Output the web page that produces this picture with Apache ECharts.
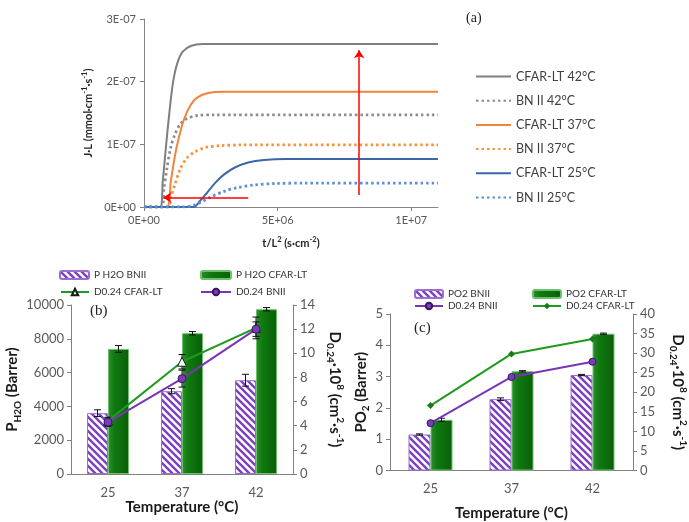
<!DOCTYPE html>
<html>
<head>
<meta charset="utf-8">
<script src="https://cdn.jsdelivr.net/npm/echarts@6/dist/echarts.min.js"></script>
<style>
  html, body { margin: 0; padding: 0; background: #fff; }
  #chart { width: 689px; height: 522px; }
</style>
</head>
<body>
<div id="chart"></div>
<script>
// (a) time-lag curves, points are [t/L2, J*L]
const cfar42 = [[0, 0], [6.0e5, 0], [7.0e5, 0.4e-7], [8.3e5, 1.0e-7], [9.6e5, 1.55e-7], [1.09e6, 2.0e-7], [1.25e6, 2.3e-7], [1.45e6, 2.48e-7], [1.75e6, 2.57e-7], [2.2e6, 2.6e-7], [1.1e7, 2.6e-7]]
const bn42 = [[0, 0], [6.5e5, 0], [7.5e5, 0.3e-7], [8.5e5, 0.6e-7], [1.0e6, 0.95e-7], [1.15e6, 1.15e-7], [1.35e6, 1.32e-7], [1.6e6, 1.41e-7], [2.0e6, 1.46e-7], [2.6e6, 1.47e-7], [1.1e7, 1.47e-7]]
const cfar37 = [[0, 0], [8.5e5, 0], [1.0e6, 0.4e-7], [1.15e6, 0.8e-7], [1.3e6, 1.1e-7], [1.5e6, 1.4e-7], [1.75e6, 1.63e-7], [2.0e6, 1.75e-7], [2.4e6, 1.82e-7], [3.0e6, 1.84e-7], [1.1e7, 1.84e-7]]
const bn37 = [[0, 0], [9.0e5, 0], [1.0e6, 0.15e-7], [1.15e6, 0.35e-7], [1.35e6, 0.6e-7], [1.6e6, 0.78e-7], [1.9e6, 0.88e-7], [2.3e6, 0.95e-7], [2.9e6, 0.98e-7], [3.6e6, 0.99e-7], [1.1e7, 0.99e-7]]
const cfar25 = [[0, 0], [1.85e6, 0], [2.1e6, 0.1e-7], [2.4e6, 0.25e-7], [2.7e6, 0.4e-7], [3.0e6, 0.52e-7], [3.4e6, 0.63e-7], [3.9e6, 0.71e-7], [4.5e6, 0.75e-7], [5.3e6, 0.765e-7], [1.1e7, 0.765e-7]]
const bn25 = [[0, 0], [1.4e6, 0], [1.8e6, 0.02e-7], [2.1e6, 0.07e-7], [2.5e6, 0.16e-7], [3.0e6, 0.25e-7], [3.5e6, 0.31e-7], [4.1e6, 0.35e-7], [4.9e6, 0.375e-7], [6.0e6, 0.38e-7], [1.1e7, 0.38e-7]]
const arrowUp = [[8.05e6, 0.19e-7], [8.05e6, 2.5e-7]]
const arrowLeft = [[3.9e6, 0.15e-7], [0.72e6, 0.15e-7]]

// (b) water vapour, (c) oxygen
const temps = ['25', '37', '42']
const pH2oBn = [3600, 4900, 5550]
const pH2oBnErr = [200, 150, 350]
const pH2oCf = [7400, 8330, 9750]
const pH2oCfErr = [200, 100, 100]
const dH2oCf = [4.4, 9.3, 12.1]
const dH2oCfErr = [0.3, 0.6, 0.9]
const dH2oBn = [4.3, 7.9, 12.0]
const dH2oBnErr = [0.35, 0.7, 0.6]
const pO2Bn = [1.15, 2.28, 3.05]
const pO2BnErr = [0.02, 0.04, 0.02]
const pO2Cf = [1.62, 3.17, 4.37]
const pO2CfErr = [0.05, 0.02, 0.02]
const dO2Bn = [12.1, 23.9, 27.8]
const dO2Cf = [16.6, 29.8, 33.6]

const font = 'Lato, "Open Sans", sans-serif'
const purple = '#7030a0'
const green = '#1f9a1f'

// hatched fill for the BNII bars
const hatch = document.createElement('canvas')
hatch.width = hatch.height = 7
const hc = hatch.getContext('2d')
hc.fillStyle = '#fff'
hc.fillRect(0, 0, 7, 7)
hc.strokeStyle = '#7d3fc0'
hc.lineWidth = 2.4
hc.beginPath()
hc.moveTo(-1, -1); hc.lineTo(8, 8)
hc.moveTo(-1, 6); hc.lineTo(1, 8)
hc.moveTo(6, -1); hc.lineTo(8, 1)
hc.stroke()

const greenFill = {
  type: 'linear', x: 0, y: 0, x2: 1, y2: 0,
  colorStops: [{ offset: 0, color: '#2f8f2f' }, { offset: 0.3, color: '#0f7a0f' }, { offset: 1, color: '#0a5e0a' }]
}

function sci(v) {
  if (v === 0) return '0E+00'
  const [m, e] = v.toExponential(0).split('e')
  const n = parseInt(e)
  return m + 'E' + (n < 0 ? '-' : '+') + String(Math.abs(n)).padStart(2, '0')
}

const richBig = {
  b: { fontSize: 15, fontWeight: 'bold', lineHeight: 20, fontFamily: font, color: '#1a1a1a' },
  sub: { fontSize: 10, fontWeight: 'bold', lineHeight: 10, verticalAlign: 'bottom', fontFamily: font, color: '#1a1a1a' },
  sup: { fontSize: 10, fontWeight: 'bold', lineHeight: 10, verticalAlign: 'top', fontFamily: font, color: '#1a1a1a' }
}
const richSmall = {
  b: { fontSize: 11, fontWeight: 'bold', lineHeight: 15, fontFamily: font, color: '#262626' },
  sup: { fontSize: 7.5, fontWeight: 'bold', lineHeight: 8, verticalAlign: 'top', fontFamily: font, color: '#262626' }
}

function errSeries(vals, errs, xi, yi, offset) {
  return {
    type: 'custom', xAxisIndex: xi, yAxisIndex: yi, z: 6, silent: true,
    data: vals.map((v, i) => [i, v - errs[i], v + errs[i]]),
    renderItem: (params, api) => {
      const lo = api.coord([api.value(0), api.value(1)])
      const hi = api.coord([api.value(0), api.value(2)])
      const x = lo[0] + offset
      const st = { stroke: '#111', lineWidth: 1 }
      return {
        type: 'group', children: [
          { type: 'line', shape: { x1: x, y1: lo[1], x2: x, y2: hi[1] }, style: st },
          { type: 'line', shape: { x1: x - 3.5, y1: lo[1], x2: x + 3.5, y2: lo[1] }, style: st },
          { type: 'line', shape: { x1: x - 3.5, y1: hi[1], x2: x + 3.5, y2: hi[1] }, style: st }
        ]
      }
    }
  }
}

function curve(name, data, color, dotted) {
  return {
    name, type: 'line', xAxisIndex: 0, yAxisIndex: 0, data, smooth: 0.3,
    symbol: 'none', color,
    lineStyle: { color, width: dotted ? 2.8 : 2, type: dotted ? [2.5, 3] : 'solid' }
  }
}

const axisLine = { lineStyle: { color: '#808080' } }
const tick = { show: true, length: 4, lineStyle: { color: '#808080' } }
const lbl = { fontSize: 13, color: '#595959', fontFamily: font }

function catAxis(gi, gap) {
  return {
    type: 'category', gridIndex: gi, data: temps, axisLine, axisTick: { show: false },
    axisLabel: { ...lbl, margin: 12 },
    name: '{b|Temperature (°C)}', nameLocation: 'middle', nameGap: gap,
    nameTextStyle: { rich: richBig }
  }
}

function valAxis(gi, pos, max, interval, name, gap, rot) {
  return {
    type: 'value', gridIndex: gi, position: pos, min: 0, max, interval,
    axisLine: { show: true, ...axisLine }, axisTick: tick, splitLine: { show: false },
    axisLabel: { ...lbl, margin: 7, formatter: v => String(v) },
    name, nameLocation: 'middle', nameGap: gap, nameRotate: rot,
    nameTextStyle: { rich: richBig }
  }
}

function lgd(name, left, top, w, h) {
  return {
    left, top, padding: 0, itemWidth: w, itemHeight: h, data: [name],
    formatter: n => n.replace(' (c)', ''),
    textStyle: { fontSize: 10, color: '#333', fontFamily: font }
  }
}

const chart = echarts.init(document.getElementById('chart'))
const option = {
  animation: false,
  textStyle: { fontFamily: font },
  grid: [
    { left: 144, top: 19, width: 294, height: 188 },
    { left: 71, top: 305, width: 222, height: 169 },
    { left: 390, top: 314, width: 245, height: 160 }
  ],
  legend: [
    {
      orient: 'vertical', left: 475, top: 70, padding: 0, itemWidth: 35, itemHeight: 14, itemGap: 11.2,
      itemStyle: { opacity: 0 },
      textStyle: { fontSize: 12.5, color: '#404040', fontFamily: font },
      data: ['CFAR-LT 42°C', 'BN II 42°C', 'CFAR-LT 37°C', 'BN II 37°C', 'CFAR-LT 25°C', 'BN II 25°C']
    },
    lgd('P H2O BNII', 59, 270, 29, 8),
    lgd('P H2O CFAR-LT', 200, 270, 30, 8),
    lgd('D0.24 CFAR-LT', 60, 287, 28, 8),
    lgd('D0.24 BNII', 200, 287, 30, 8),
    lgd('PO2 BNII', 414, 289, 28, 8),
    lgd('PO2 CFAR-LT', 532, 289, 28, 8),
    lgd('D0.24 BNII (c)', 414, 301, 28, 8),
    lgd('D0.24 CFAR-LT (c)', 532, 301, 28, 8)
  ],
  graphic: [
    { type: 'text', left: 466, top: 11, style: { text: '(a)', font: '14px "Liberation Serif", serif', fill: '#222' } },
    { type: 'text', left: 90, top: 304, style: { text: '(b)', font: '15px "Liberation Serif", serif', fill: '#222' } },
    { type: 'text', left: 414, top: 321, style: { text: '(c)', font: '15px "Liberation Serif", serif', fill: '#222' } }
  ],
  xAxis: [
    {
      type: 'value', gridIndex: 0, min: 0, max: 1.1e7, interval: 5e6,
      axisLine: { lineStyle: { color: '#868686' } }, axisTick: tick, splitLine: { show: false },
      axisLabel: { fontSize: 11, color: '#595959', fontFamily: font, formatter: sci, showMaxLabel: false },
      name: '{b|t/L}{sup|2}{b| (s·cm}{sup|-2}{b|)}', nameLocation: 'middle', nameGap: 29,
      nameTextStyle: { rich: richSmall }
    },
    catAxis(1, 22),
    catAxis(2, 33)
  ],
  yAxis: [
    {
      type: 'value', gridIndex: 0, min: 0, max: 3e-7, interval: 1e-7,
      axisLine: { show: true, lineStyle: { color: '#868686' } }, axisTick: tick, splitLine: { show: false },
      axisLabel: { fontSize: 11, color: '#595959', fontFamily: font, formatter: sci },
      name: '{b|J·L (mmol·cm}{sup|-1}{b|·s}{sup|-1}{b|)}', nameLocation: 'middle', nameGap: 48, nameRotate: 90,
      nameTextStyle: { rich: richSmall }
    },
    valAxis(1, 'left', 10000, 2000, '{b|P}{sub|H2O}{b| (Barrer)}', 47, 90),
    valAxis(1, 'right', 14, 2, '{b|D}{sub|0.24}{b|·10}{sup|8}{b| (cm}{sup|2}{b|·s}{sup|-1}{b|)}', 32, -90),
    valAxis(2, 'left', 5, 1, '{b|PO}{sub|2}{b| (Barrer)}', 19, 90),
    valAxis(2, 'right', 40, 5, '{b|D}{sub|0.24}{b|·10}{sup|8}{b| (cm}{sup|2}{b|·s}{sup|-1}{b|)}', 35, -90)
  ],
  series: [
    curve('CFAR-LT 42°C', cfar42, '#7f7f7f', false),
    curve('BN II 42°C', bn42, '#8c8c8c', true),
    curve('CFAR-LT 37°C', cfar37, '#f0843a', false),
    curve('BN II 37°C', bn37, '#f7933e', true),
    curve('CFAR-LT 25°C', cfar25, '#3b68a8', false),
    curve('BN II 25°C', bn25, '#5a8fd6', true),
    {
      name: 'arrows', type: 'lines', coordinateSystem: 'cartesian2d', xAxisIndex: 0, yAxisIndex: 0,
      symbol: ['none', 'arrow'], symbolSize: 8, silent: true, z: 5,
      lineStyle: { color: '#ff0000', width: 1.5, opacity: 1 },
      data: [{ coords: arrowUp }, { coords: arrowLeft }]
    },
    // (b)
    {
      name: 'P H2O BNII', type: 'bar', xAxisIndex: 1, yAxisIndex: 1, data: pH2oBn, barWidth: 21, barGap: '0%',
      itemStyle: { color: { image: hatch, repeat: 'repeat' }, borderColor: '#9b6fd0', borderWidth: 1 }
    },
    {
      name: 'P H2O CFAR-LT', type: 'bar', xAxisIndex: 1, yAxisIndex: 1, data: pH2oCf, barWidth: 21, barGap: '0%',
      itemStyle: { color: greenFill, borderColor: '#6cc06c', borderWidth: 1 }
    },
    errSeries(pH2oBn, pH2oBnErr, 1, 1, -10.5),
    errSeries(pH2oCf, pH2oCfErr, 1, 1, 10.5),
    {
      name: 'D0.24 CFAR-LT', type: 'line', xAxisIndex: 1, yAxisIndex: 2, data: dH2oCf, z: 7,
      symbol: 'triangle', symbolSize: 9, color: green,
      lineStyle: { color: green, width: 2 },
      itemStyle: { color: '#f4fbf4', borderColor: '#1a1a1a', borderWidth: 1 }
    },
    {
      name: 'D0.24 BNII', type: 'line', xAxisIndex: 1, yAxisIndex: 2, data: dH2oBn, z: 8,
      symbol: 'circle', symbolSize: 8, color: purple,
      lineStyle: { color: '#7a35b5', width: 2 },
      itemStyle: { color: '#7a3db8', borderColor: '#3b1560', borderWidth: 1 }
    },
    errSeries(dH2oCf, dH2oCfErr, 1, 2, 0),
    errSeries(dH2oBn, dH2oBnErr, 1, 2, 0),
    // (c)
    {
      name: 'PO2 BNII', type: 'bar', xAxisIndex: 2, yAxisIndex: 3, data: pO2Bn, barWidth: 22, barGap: '0%',
      itemStyle: { color: { image: hatch, repeat: 'repeat' }, borderColor: '#9b6fd0', borderWidth: 1 }
    },
    {
      name: 'PO2 CFAR-LT', type: 'bar', xAxisIndex: 2, yAxisIndex: 3, data: pO2Cf, barWidth: 22, barGap: '0%',
      itemStyle: { color: greenFill, borderColor: '#6cc06c', borderWidth: 1 }
    },
    errSeries(pO2Bn, pO2BnErr, 2, 3, -11),
    errSeries(pO2Cf, pO2CfErr, 2, 3, 11),
    {
      name: 'D0.24 BNII (c)', type: 'line', xAxisIndex: 2, yAxisIndex: 4, data: dO2Bn, z: 7,
      symbol: 'circle', symbolSize: 7, color: purple,
      lineStyle: { color: '#7a35b5', width: 2 },
      itemStyle: { color: '#7a3db8', borderColor: '#3b1560', borderWidth: 1 }
    },
    {
      name: 'D0.24 CFAR-LT (c)', type: 'line', xAxisIndex: 2, yAxisIndex: 4, data: dO2Cf, z: 7,
      symbol: 'diamond', symbolSize: 7, color: green,
      lineStyle: { color: green, width: 2 },
      itemStyle: { color: '#1a7a1a' }
    }
  ]
}
chart.setOption(option)
</script>
</body>
</html>
